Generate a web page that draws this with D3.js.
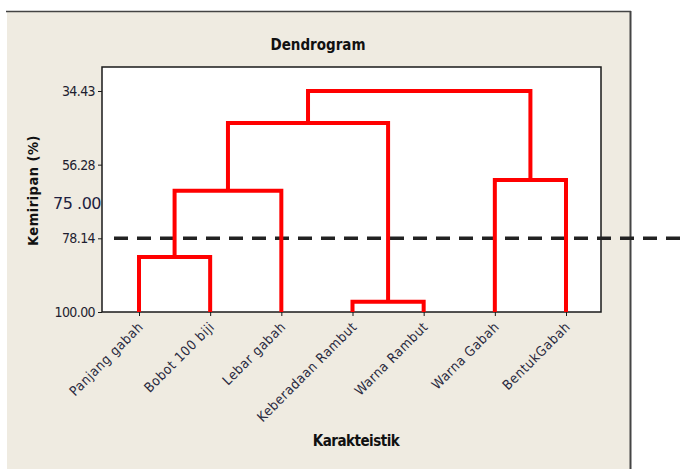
<!DOCTYPE html>
<html>
<head>
<meta charset="utf-8">
<script src="https://cdn.jsdelivr.net/npm/d3@7"></script>
<style>
body { margin: 0; background: #fff; }
text { font-family: "DejaVu Sans Condensed", "DejaVu Sans", sans-serif; }
</style>
</head>
<body>
<div id="chart"></div>
<script>
// leaves in dendrogram order
var leaves = ["Panjang gabah", "Bobot  100 biji", "Lebar gabah", "Keberadaan Rambut", "Warna Rambut", "Warna Gabah", "BentukGabah"];
// each merge makes node 7+i from nodes mergeA[i] and mergeB[i]
var mergeA = [3, 0, 8, 5, 9, 11];
var mergeB = [4, 1, 2, 6, 7, 10];
var mergeSim = [96.94, 83.68, 64.01, 60.84, 43.92, 34.43];

var yTicks = [34.43, 56.28, 78.14, 100.00];
var extraLabel = "75 .00", extraLabelAt = 67.66;
var cutLevel = 78.14;

var W = 689, H = 469;
var box = {left: 102, right: 601, top: 67, bottom: 312};

var svg = d3.select("#chart").append("svg")
    .attr("width", W)
    .attr("height", H);

// panel background + borders (top and right only)
svg.append("rect").attr("x", 7).attr("y", 11).attr("width", 623).attr("height", H - 11)
    .attr("fill", "#efebe1");
svg.append("line").attr("x1", 6).attr("x2", 631).attr("y1", 11.5).attr("y2", 11.5)
    .attr("stroke", "#444").attr("stroke-width", 1.5);
svg.append("line").attr("x1", 630.5).attr("x2", 630.5).attr("y1", 11).attr("y2", H)
    .attr("stroke", "#444").attr("stroke-width", 2);

svg.append("rect").attr("x", box.left).attr("y", box.top)
    .attr("width", box.right - box.left).attr("height", box.bottom - box.top)
    .attr("fill", "#fff").attr("stroke", "#1a1a1a").attr("stroke-width", 1.5);

var x = d3.scalePoint().domain(leaves).range([139, 566]);
var y = d3.scaleLinear().domain([100, 34.43]).range([box.bottom, 91]);

// node positions
var nx = leaves.map(function(d) { return x(d); });
var ny = leaves.map(function() { return 100; });
mergeA.forEach(function(a, i) {
    var b = mergeB[i];
    nx.push((nx[a] + nx[b]) / 2);
    ny.push(mergeSim[i]);
});

var links = [];
mergeA.forEach(function(a, i) {
    var b = mergeB[i], h = mergeSim[i];
    links.push([[nx[a], y(ny[a])], [nx[a], y(h)], [nx[b], y(h)], [nx[b], y(ny[b])]]);
});

// y axis
var yAxis = d3.axisLeft(y).tickValues(yTicks).tickFormat(d3.format(".2f")).tickSize(4).tickPadding(3);
var gy = svg.append("g").attr("transform", "translate(" + box.left + ",0)").call(yAxis);
gy.select(".domain").remove();
gy.selectAll("text").attr("font-size", 14).attr("fill", "#1e1e30")
    .style("font-family", "'DejaVu Sans Condensed', sans-serif").style("letter-spacing", "-0.6px");
gy.selectAll("line").attr("stroke", "#1a1a1a");

svg.append("text").attr("x", 101).attr("y", y(extraLabelAt)).attr("dy", "0.35em")
    .attr("text-anchor", "end").attr("font-size", 16).attr("fill", "#1e1e40")
    .style("font-family", "'DejaVu Sans', sans-serif").style("letter-spacing", "-0.5px")
    .text(extraLabel);

// x axis
var xAxis = d3.axisBottom(x).tickSize(4).tickPadding(0);
var gx = svg.append("g").attr("transform", "translate(0," + box.bottom + ")").call(xAxis);
gx.select(".domain").remove();
gx.selectAll("line").attr("stroke", "#1a1a1a");
gx.selectAll("text")
    .attr("font-size", 13.5).attr("fill", "#2a2a40")
    .attr("text-anchor", "end")
    .style("letter-spacing", "0.6px")
    .attr("transform", function(d) { return "translate(-2,9) rotate(-45)"; })
    .attr("y", 0).attr("dy", "0.7em");

// cut line
svg.append("line").attr("x1", 114).attr("x2", W).attr("y1", y(cutLevel)).attr("y2", y(cutLevel))
    .attr("stroke", "#222").attr("stroke-width", 3.5).attr("stroke-dasharray", "14,9");

// dendrogram links
svg.append("g").selectAll("path").data(links).enter().append("path")
    .attr("d", d3.line())
    .attr("fill", "none").attr("stroke", "#ff0000").attr("stroke-width", 4)
    .attr("stroke-linejoin", "miter");

// titles
svg.append("text").attr("x", 318).attr("y", 50).attr("text-anchor", "middle")
    .attr("font-size", 15).attr("font-weight", "bold").attr("fill", "#111")
    .text("Dendrogram");
svg.append("text").attr("x", 356).attr("y", 446).attr("text-anchor", "middle")
    .attr("font-size", 15).attr("font-weight", "bold").attr("fill", "#111")
    .style("letter-spacing", "-0.5px")
    .text("Karakteistik");
svg.append("text").attr("transform", "translate(38," + ((box.top + box.bottom) / 2 + 1) + ") rotate(-90)")
    .attr("text-anchor", "middle").attr("font-size", 14.5).attr("font-weight", "bold").attr("fill", "#111")
    .style("letter-spacing", "0.5px")
    .text("Kemiripan (%)");
</script>
</body>
</html>
